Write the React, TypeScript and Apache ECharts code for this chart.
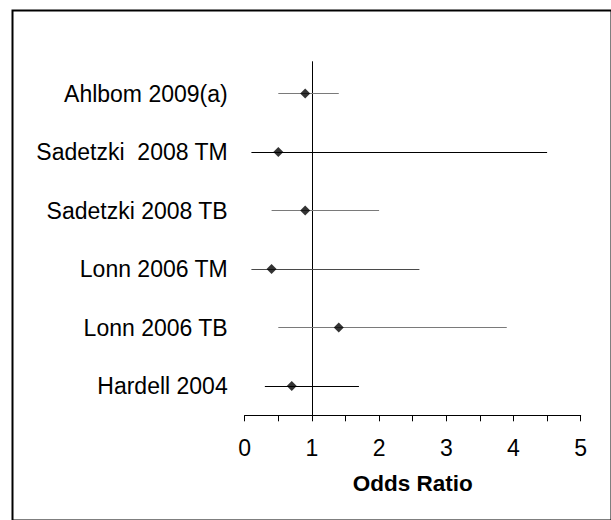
import React, { useEffect, useRef } from "react";
import * as echarts from "echarts";

const categories = [
  "Ahlbom 2009(a)",
  "Sadetzki  2008 TM",
  "Sadetzki 2008 TB",
  "Lonn 2006 TM",
  "Lonn 2006 TB",
  "Hardell 2004",
];
const oddsRatio = [0.9, 0.5, 0.9, 0.4, 1.4, 0.7];
const lowerCI = [0.5, 0.1, 0.4, 0.1, 0.5, 0.3];
const upperCI = [1.4, 4.5, 2.0, 2.6, 3.9, 1.7];
const xMin = 0;
const xMax = 5;
const xInterval = 1;
const referenceValue = 1;
const xAxisTitle = "Odds Ratio";

// per-row whisker stroke colours (style only)
const ciLineColors = ["#7a7a7a", "#000000", "#7a7a7a", "#4a4a4a", "#7a7a7a", "#000000"];

const FONT = "'Liberation Sans', Arial, sans-serif";

export default function App() {
  const ref = useRef<HTMLDivElement>(null);
  useEffect(() => {
    document.body.style.margin = "0";
    const chart = echarts.init(ref.current!, null, { renderer: "svg" });
    const ciData = categories.map((_, i) => [lowerCI[i], upperCI[i], i]);
    const pointData = categories.map((_, i) => [oddsRatio[i], i]);
    chart.setOption({
      animation: false,
      backgroundColor: "#ffffff",
      grid: { left: 244.7, right: 30.3, top: 64.3, bottom: 104.7 },
      xAxis: {
        type: "value",
        min: xMin,
        max: xMax,
        interval: xInterval,
        name: xAxisTitle,
        nameLocation: "middle",
        nameGap: 57,
        nameTextStyle: { fontFamily: FONT, fontSize: 22.5, fontWeight: "bold", color: "#000" },
        axisLine: { show: true, lineStyle: { color: "#000", width: 1 } },
        axisTick: { show: true, length: 6, lineStyle: { color: "#000", width: 1 } },
        minorTick: { show: true, splitNumber: 2, length: 6, lineStyle: { color: "#000", width: 1 } },
        axisLabel: { fontFamily: FONT, fontSize: 23, color: "#000", margin: 21 },
        splitLine: { show: false },
      },
      yAxis: {
        type: "category",
        data: categories,
        inverse: true,
        boundaryGap: true,
        axisLine: { show: false },
        axisTick: { show: false },
        splitLine: { show: false },
        axisLabel: { fontFamily: FONT, fontSize: 23, color: "#000", margin: 17 },
      },
      graphic: [
        {
          type: "rect",
          left: 10,
          top: 8,
          shape: { width: 599, height: 510 },
          style: { fill: "none", stroke: "#000", lineWidth: 2 },
          silent: true,
        },
      ],
      series: [
        {
          type: "custom",
          data: [[referenceValue]],
          encode: { x: 0 },
          z: 1,
          renderItem: (params: any, api: any) => {
            const v = api.value(0);
            const top = api.coord([v, 0]);
            const bottom = api.coord([v, categories.length - 1]);
            const band = api.size([0, 1])[1];
            const x = Math.round(top[0]) + 0.5;
            return {
              type: "line",
              shape: { x1: x, y1: top[1] - band / 2 - 3, x2: x, y2: bottom[1] + band / 2 },
              style: { stroke: "#000", lineWidth: 1 },
            };
          },
        },
        {
          type: "custom",
          data: ciData,
          encode: { x: [0, 1], y: 2 },
          z: 2,
          renderItem: (params: any, api: any) => {
            const idx = api.value(2);
            const a = api.coord([api.value(0), idx]);
            const b = api.coord([api.value(1), idx]);
            const y = Math.floor(a[1]) + 0.5;
            return {
              type: "line",
              shape: { x1: a[0], y1: y, x2: b[0], y2: y },
              style: { stroke: ciLineColors[params.dataIndex], lineWidth: 1 },
            };
          },
        },
        {
          type: "scatter",
          data: pointData,
          symbol: "diamond",
          symbolSize: 10,
          itemStyle: { color: "#000" },
          z: 3,
        },
      ],
    });
    return () => chart.dispose();
  }, []);
  return (
    <div
      ref={ref}
      style={{ position: "absolute", left: 0, top: 0, width: 611, height: 520 }}
    />
  );
}
